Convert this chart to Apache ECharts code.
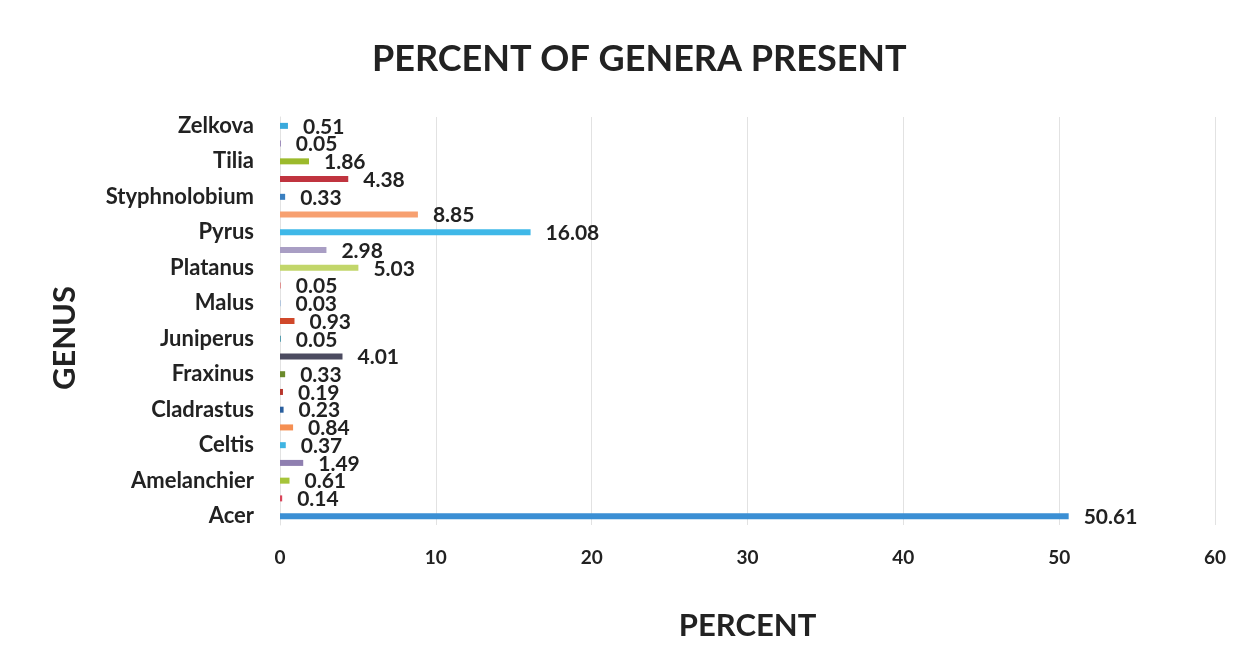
<!DOCTYPE html>
<html>
<head>
<meta charset="utf-8">
<script src="https://cdn.jsdelivr.net/npm/echarts@6/dist/echarts.min.js"></script>
<style>
  html, body { margin: 0; padding: 0; background: #fff; }
  #chart { width: 1249px; height: 652px; }
</style>
</head>
<body>
<div id="chart"></div>
<script>
// genera, bottom to top; only every other name is printed on the axis
var genera = [
  'Acer', 'Aesculus', 'Amelanchier', 'Betula', 'Celtis', 'Cercis',
  'Cladrastus', 'Cornus', 'Fraxinus', 'Gleditsia', 'Juniperus', 'Koelreuteria',
  'Malus', 'Metasequoia', 'Platanus', 'Prunus', 'Pyrus', 'Quercus',
  'Styphnolobium', 'Syringa', 'Tilia', 'Ulmus', 'Zelkova'
];
var percent = [
  50.61, 0.14, 0.61, 1.49, 0.37, 0.84,
  0.23, 0.19, 0.33, 4.01, 0.05, 0.93,
  0.03, 0.05, 5.03, 2.98, 16.08, 8.85,
  0.33, 4.38, 1.86, 0.05, 0.51
];
var ticks = [0, 10, 20, 30, 40, 50, 60];

// excel "vary colors by point" palette, one per bar
var palette = [
  '#3b8fd4', '#d9455a', '#a6c43a', '#8f7fb0', '#3fb4e2', '#f58f52',
  '#2a5f9e', '#b8362c', '#6b8a2c', '#4c4b60', '#2f8aa0', '#d0482a',
  '#7aa6d8', '#de7a78', '#c2d66a', '#a99ec4', '#3fb8e8', '#f7a070',
  '#3a7fc0', '#c0343f', '#9cba2c', '#8c76b0', '#3aa9dc'
];

var font = 'Lato, "Open Sans", sans-serif';
var chart = echarts.init(document.getElementById('chart'));

chart.setOption({
  backgroundColor: '#fff',
  animation: false,
  title: {
    text: 'PERCENT OF GENERA PRESENT',
    left: 367,
    top: 36,
    textStyle: { fontFamily: font, fontSize: 36, fontWeight: 'bold', color: '#222' }
  },
  grid: { left: 280, right: 34, top: 117, bottom: 127 },
  xAxis: {
    type: 'value',
    min: ticks[0],
    max: ticks[ticks.length - 1],
    interval: 10,
    name: 'PERCENT',
    nameLocation: 'middle',
    nameGap: 85,
    nameTextStyle: { fontFamily: font, fontSize: 31, fontWeight: 'bold', color: '#222' },
    axisLine: { show: false },
    axisTick: { show: false },
    axisLabel: { fontFamily: font, fontSize: 19, fontWeight: 'bold', color: '#222', margin: 23 },
    splitLine: { lineStyle: { color: '#e2e2e2', width: 1 } }
  },
  yAxis: {
    type: 'category',
    data: genera,
    name: 'GENUS',
    nameLocation: 'middle',
    nameGap: 200,
    nameRotate: 90,
    nameTextStyle: {
      fontFamily: font, fontSize: 31, fontWeight: 'bold', color: '#222',
      padding: [0, 34, 0, 0]
    },
    axisLine: { show: true, lineStyle: { color: '#e2e2e2' } },
    axisTick: { show: false },
    axisLabel: { interval: 1, fontFamily: font, fontSize: 22, fontWeight: 'bold', color: '#222', margin: 26 }
  },
  series: [{
    type: 'bar',
    data: percent,
    barWidth: 6,
    itemStyle: {
      color: function (p) { return palette[p.dataIndex % palette.length]; }
    },
    label: {
      show: true,
      position: 'right',
      distance: 15,
      offset: [0, 1],
      fontFamily: font,
      fontSize: 21,
      fontWeight: 'bold',
      color: '#222',
      formatter: function (p) { return p.value.toFixed(2); }
    }
  }]
});
</script>
</body>
</html>
